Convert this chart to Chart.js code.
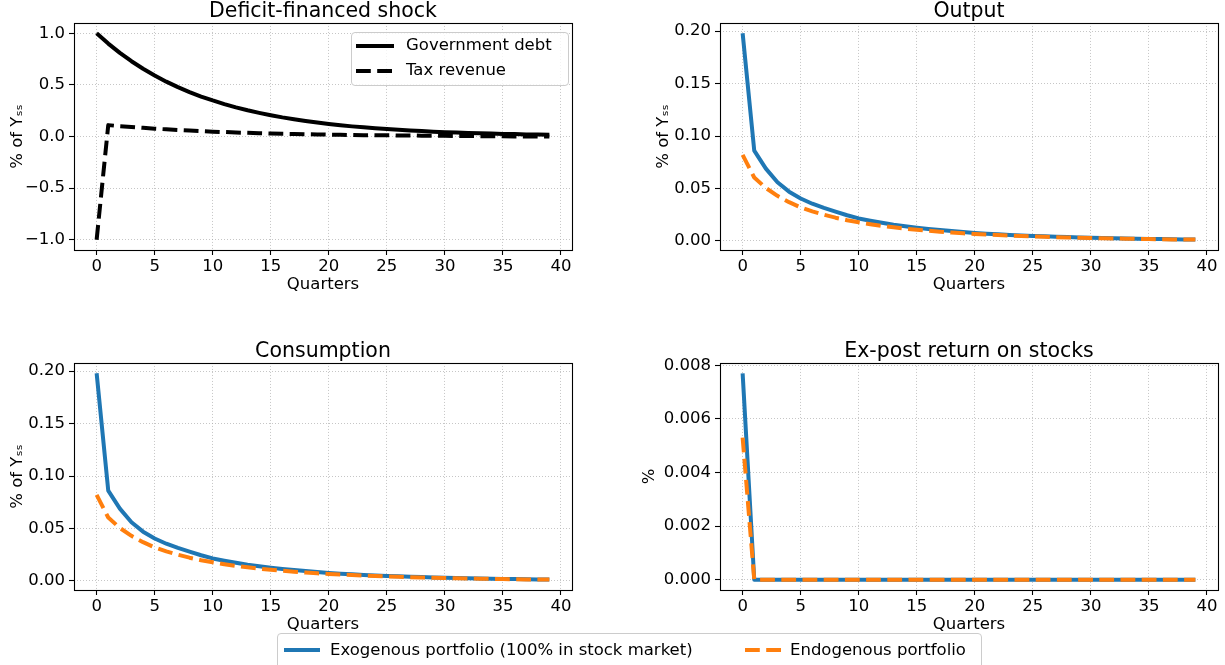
<!DOCTYPE html>
<html><head><meta charset="utf-8">
<script src="https://cdn.jsdelivr.net/npm/chart.js@4.4.1/dist/chart.umd.min.js"></script>
<style>
html,body{margin:0;padding:0;background:#fff;width:1225px;height:665px;overflow:hidden;font-family:"DejaVu Sans",sans-serif;}
canvas{position:absolute;display:block;}
.leg{position:absolute;border:1px solid #cccccc;border-radius:4px;background:rgba(255,255,255,0.8);font-size:16.5px;color:#000;box-sizing:border-box;z-index:5;}
.leg span{position:absolute;line-height:20px;white-space:nowrap;}
.leg svg{position:absolute;}
</style></head><body>
<canvas id="c0" width="600" height="300" style="left:0;top:0"></canvas>
<canvas id="c1" width="579" height="300" style="left:646px;top:0"></canvas>
<canvas id="c2" width="600" height="300" style="left:0;top:340px"></canvas>
<canvas id="c3" width="593" height="300" style="left:632px;top:340px"></canvas>

<div class="leg" style="left:351px;top:32px;width:218px;height:54px;">
  <svg style="left:4px;top:11px" width="38" height="4"><line x1="0" y1="2" x2="38" y2="2" stroke="#000" stroke-width="4"/></svg>
  <span style="left:54px;top:2px">Government debt</span>
  <svg style="left:4px;top:36px" width="38" height="4"><line x1="0" y1="2" x2="38" y2="2" stroke="#000" stroke-width="4" stroke-dasharray="14.8 6.4"/></svg>
  <span style="left:54px;top:27px">Tax revenue</span>
</div>
<div class="leg" style="left:277px;top:633px;width:705px;height:40px;">
  <svg style="left:6px;top:14px" width="36" height="4"><line x1="0" y1="2" x2="36" y2="2" stroke="#1f77b4" stroke-width="4"/></svg>
  <span style="left:52px;top:6px">Exogenous portfolio (100% in stock market)</span>
  <svg style="left:467px;top:14px" width="36" height="4"><line x1="0" y1="2" x2="36" y2="2" stroke="#ff7f0e" stroke-width="4" stroke-dasharray="14.8 6.4"/></svg>
  <span style="left:512px;top:6px">Endogenous portfolio</span>
</div>

<script>
// ---------- data ----------
const quarters = [0,1,2,3,4,5,6,7,8,9,10,11,12,13,14,15,16,17,18,19,20,21,22,23,24,25,26,27,28,29,30,31,32,33,34,35,36,37,38,39];

const govDebt = [1.000,0.900,0.810,0.729,0.656,0.590,0.531,0.478,0.430,0.387,0.349,0.314,0.282,0.254,0.229,0.206,0.185,0.167,0.150,0.135,0.122,0.109,0.098,0.089,0.080,0.072,0.065,0.058,0.052,0.047,0.042,0.038,0.034,0.031,0.028,0.025,0.023,0.020,0.018,0.016];
const taxRevenue = [-1.000,0.110,0.100,0.092,0.084,0.076,0.069,0.063,0.057,0.052,0.047,0.043,0.039,0.035,0.032,0.029,0.026,0.024,0.022,0.020,0.018,0.016,0.015,0.013,0.012,0.011,0.010,0.009,0.008,0.007,0.006,0.005,0.004,0.003,0.002,0.002,0.001,0.001,0.000,0.000];

const outputExo = [0.198,0.0861,0.0690,0.0560,0.0470,0.0405,0.0355,0.0315,0.0280,0.0245,0.0215,0.0193,0.0173,0.0155,0.0140,0.0127,0.0115,0.0104,0.0094,0.0085,0.0077,0.0070,0.0064,0.0058,0.0053,0.0048,0.0044,0.0040,0.0037,0.0034,0.0031,0.0028,0.0026,0.0024,0.0022,0.0020,0.0018,0.0017,0.0015,0.0014];
const outputEndo = [0.082,0.0605,0.0505,0.0430,0.0370,0.0320,0.0282,0.0250,0.0222,0.0198,0.0178,0.0160,0.0144,0.0130,0.0118,0.0107,0.0097,0.0088,0.0080,0.0073,0.0067,0.0061,0.0056,0.0051,0.0047,0.0043,0.0040,0.0036,0.0033,0.0031,0.0028,0.0026,0.0024,0.0022,0.0020,0.0018,0.0017,0.0015,0.0014,0.0013];

const consumptionExo = [0.198,0.0861,0.0690,0.0560,0.0470,0.0405,0.0355,0.0315,0.0280,0.0245,0.0215,0.0193,0.0173,0.0155,0.0140,0.0127,0.0115,0.0104,0.0094,0.0085,0.0077,0.0070,0.0064,0.0058,0.0053,0.0048,0.0044,0.0040,0.0037,0.0034,0.0031,0.0028,0.0026,0.0024,0.0022,0.0020,0.0018,0.0017,0.0015,0.0014];
const consumptionEndo = [0.082,0.0605,0.0505,0.0430,0.0370,0.0320,0.0282,0.0250,0.0222,0.0198,0.0178,0.0160,0.0144,0.0130,0.0118,0.0107,0.0097,0.0088,0.0080,0.0073,0.0067,0.0061,0.0056,0.0051,0.0047,0.0043,0.0040,0.0036,0.0033,0.0031,0.0028,0.0026,0.0024,0.0022,0.0020,0.0018,0.0017,0.0015,0.0014,0.0013];

const stockExo = [0.0077,0,0,0,0,0,0,0,0,0,0,0,0,0,0,0,0,0,0,0,0,0,0,0,0,0,0,0,0,0,0,0,0,0,0,0,0,0,0,0];
const stockEndo = [0.0053,0,0,0,0,0,0,0,0,0,0,0,0,0,0,0,0,0,0,0,0,0,0,0,0,0,0,0,0,0,0,0,0,0,0,0,0,0,0,0];

const xTickValues = [0,5,10,15,20,25,30,35,40];
const xTickLabels = ["0","5","10","15","20","25","30","35","40"];
const debtTickValues = [-1.0,-0.5,0.0,0.5,1.0];
const debtTickLabels = ["\u22121.0","\u22120.5","0.0","0.5","1.0"];
const pctTickValues = [0.00,0.05,0.10,0.15,0.20];
const pctTickLabels = ["0.00","0.05","0.10","0.15","0.20"];
const stockTickValues = [0.000,0.002,0.004,0.006,0.008];
const stockTickLabels = ["0.000","0.002","0.004","0.006","0.008"];

const titles = ["Deficit-financed shock","Output","Consumption","Ex-post return on stocks"];
const seriesNames = ["Government debt","Tax revenue","Exogenous portfolio (100% in stock market)","Endogenous portfolio"];

// ---------- styling ----------
const FONT = "DejaVu Sans";
const BLUE = "#1f77b4", ORANGE = "#ff7f0e";
const DASH = [14.8, 6.4];

const frame = {
  id: 'frame',
  afterDraw(c) {
    const a = c.chartArea, g = c.ctx;
    g.save();
    g.strokeStyle = '#000';
    g.lineWidth = 1.1;
    g.strokeRect(Math.round(a.left) + 0.5, Math.round(a.top) + 0.5, Math.round(a.right - a.left), Math.round(a.bottom - a.top));
    g.restore();
  }
};

function pts(arr) { return quarters.map((q, i) => ({x: q, y: arr[i]})); }

function ds(label, arr, color, dashed, order) {
  return {
    label, data: pts(arr), borderColor: color, backgroundColor: color,
    borderWidth: 4, borderDash: dashed ? DASH : [], pointRadius: 0, tension: 0,
    borderJoinStyle: 'round', borderCapStyle: 'butt', fill: false, order
  };
}

function makeChart(id, title, yTitle, yMin, yMax, yVals, yLabels, datasets, yWidth, padRight) {
  const tickFont = {family: FONT, size: 16.5};
  const grid = {
    color: 'rgba(170,170,170,0.75)', lineWidth: 0.9,
    tickColor: '#000', tickLength: 5, tickWidth: 1.1, tickBorderDash: [], drawOnChartArea: true
  };
  const border = {display: false, dash: [1, 2]};
  new Chart(document.getElementById(id), {
    type: 'line',
    data: {datasets},
    options: {
      responsive: false, animation: false, devicePixelRatio: 1,
      layout: {padding: {left: 0, top: 0, right: padRight, bottom: 0}},
      plugins: {
        legend: {display: false}, tooltip: {enabled: false},
        title: {display: true, fullSize: false, text: title, color: '#000',
          font: {family: FONT, size: 20.5, weight: 'normal', lineHeight: 1.12},
          padding: {top: 0, bottom: 0}}
      },
      scales: {
        x: {
          type: 'linear', min: -1.95, max: 40.95,
          afterBuildTicks: s => { s.ticks = xTickValues.map(v => ({value: v})); },
          afterFit: s => { s.height = 50; },
          ticks: {font: tickFont, color: '#000', padding: 2, maxRotation: 0, autoSkip: false,
            callback: (v, i) => xTickLabels[i]},
          grid, border,
          title: {display: true, text: 'Quarters', color: '#000', font: {family: FONT, size: 16.5, lineHeight: 1.2}, padding: {top: 0, bottom: 5}}
        },
        y: {
          type: 'linear', min: yMin, max: yMax,
          afterBuildTicks: s => { s.ticks = yVals.map(v => ({value: v})); },
          afterFit: s => { s.width = yWidth; },
          ticks: {font: tickFont, color: '#000', padding: 4, autoSkip: false,
            callback: (v, i) => yLabels[i]},
          grid, border,
          title: {display: true, text: yTitle, color: '#000', font: {family: FONT, size: 16.5, lineHeight: 1.2}, padding: {top: 8, bottom: 0}}
        }
      }
    },
    plugins: [frame]
  });
}

makeChart('c0', titles[0], '% of Y\u209B\u209B', -1.1, 1.1, debtTickValues, debtTickLabels, [
  ds(seriesNames[0], govDebt, '#000', false, 1),
  ds(seriesNames[1], taxRevenue, '#000', true, 0)
], 74, 28);

makeChart('c1', titles[1], '% of Y\u209B\u209B', -0.0086, 0.2078, pctTickValues, pctTickLabels, [
  ds(seriesNames[2], outputExo, BLUE, false, 1),
  ds(seriesNames[3], outputEndo, ORANGE, true, 0)
], 74, 7);

makeChart('c2', titles[2], '% of Y\u209B\u209B', -0.0086, 0.2078, pctTickValues, pctTickLabels, [
  ds(seriesNames[2], consumptionExo, BLUE, false, 1),
  ds(seriesNames[3], consumptionEndo, ORANGE, true, 0)
], 74, 28);

makeChart('c3', titles[3], '%', -0.000385, 0.008085, stockTickValues, stockTickLabels, [
  ds(seriesNames[2], stockExo, BLUE, false, 1),
  ds(seriesNames[3], stockEndo, ORANGE, true, 0)
], 88, 7);
</script>
</body></html>
